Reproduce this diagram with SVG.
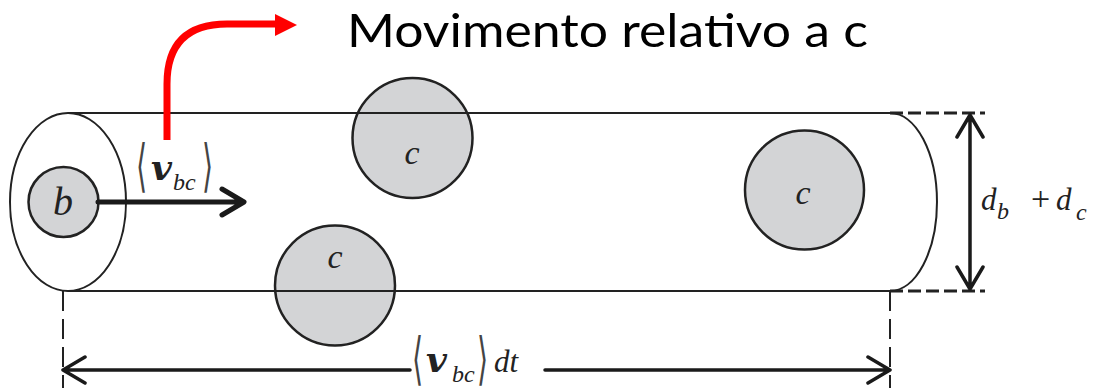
<svg xmlns="http://www.w3.org/2000/svg" width="1106" height="392" viewBox="0 0 1106 392">
<style>
.ln{fill:none;stroke:#222;stroke-width:2}
.cir{fill:#d3d4d6;stroke:#222;stroke-width:2.5}
.math{font-family:"Liberation Serif","DejaVu Serif",serif;font-style:italic;fill:#222}
.vb{font-family:"DejaVu Serif","Liberation Serif",serif;font-style:italic;font-weight:bold;fill:#222}
.rm{font-family:"Liberation Serif","DejaVu Serif",serif;font-style:normal;fill:#222}
.br{font-family:"DejaVu Serif","Liberation Serif",serif;fill:#444}
.dash{fill:none;stroke:#222;stroke-width:3;stroke-dasharray:13 5}
.dashv{fill:none;stroke:#222;stroke-width:2;stroke-dasharray:20 8}
.arr{fill:none;stroke:#1a1a1a;stroke-width:3.5;stroke-linecap:round;stroke-linejoin:round}
</style>
<rect width="1106" height="392" fill="#fff"/>
<g id="particles">
<g id="c1"><circle class="cir" cx="412.5" cy="138" r="60"/><text class="math" x="412" y="164" font-size="34" text-anchor="middle">c</text></g>
<g id="c2"><circle class="cir" cx="335" cy="285.5" r="60"/><text class="math" x="335" y="268" font-size="34" text-anchor="middle">c</text></g>
<g id="c3"><circle class="cir" cx="804.5" cy="190" r="59.5"/><text class="math" x="803" y="204" font-size="34" text-anchor="middle">c</text></g>
</g>
<g id="cylinder">
<ellipse class="ln" cx="68" cy="202" rx="58" ry="89"/>
<line class="ln" x1="68" y1="113" x2="890" y2="113"/>
<line class="ln" x1="68" y1="291" x2="890" y2="291"/>
<path class="ln" d="M890,113 A47,89 0 0 1 890,291"/>
</g>
<g id="b">
<circle class="cir" cx="63.5" cy="202" r="35"/>
<text class="math" x="63" y="215" font-size="40" text-anchor="middle">b</text>
</g>
<g id="connectors">
<path d="M98,202 H243 M222,189 L244,202 L222,215" fill="none" stroke="#1a1a1a" stroke-width="5" stroke-linecap="round" stroke-linejoin="round"/>
<path d="M167,140 V84 Q167,24 227,24 H278" fill="none" stroke="#ff0000" stroke-width="7"/>
<polygon points="275,14 297,25 275,36" fill="#ff0000"/>
<path class="dash" d="M890,113 H985 M890,291 H985"/>
<path class="arr" d="M970,115 V289 M957,137 L970,115 L983,137 M957,267 L970,289 L983,267"/>
<path class="dashv" d="M63,291 V388 M890,291 V388"/>
<path class="arr" d="M63,370 H410 M545,370 H890 M85,357 L63,370 L85,383 M868,357 L890,370 L868,383"/>
</g>
<g id="labels">
<g id="vbc-top">
<text class="br" transform="translate(136,185) scale(0.5,1)" font-size="57">⟨</text>
<text class="vb" x="151" y="180" font-size="36">v</text>
<text class="math" x="173" y="190" font-size="24">bc</text>
<text class="br" transform="translate(202,185) scale(0.5,1)" font-size="57">⟩</text>
</g>
<g id="vbc-dt">
<text class="br" transform="translate(412,378) scale(0.5,1)" font-size="57">⟨</text>
<text class="vb" x="426" y="372" font-size="36">v</text>
<text class="math" x="452" y="382" font-size="24">bc</text>
<text class="br" transform="translate(477,378) scale(0.5,1)" font-size="57">⟩</text>
<text class="math" x="494" y="372" font-size="31">dt</text>
</g>
<g id="dbdc">
<text class="math" x="981" y="210" font-size="31">d</text>
<text class="math" x="997" y="219" font-size="24">b</text>
<text class="rm" x="1031" y="210" font-size="34">+</text>
<text class="math" x="1056" y="210" font-size="31">d</text>
<text class="math" x="1076" y="220" font-size="24">c</text>
</g>
<text id="title" x="347" y="47" font-family="Lato,'Open Sans',sans-serif" font-size="46" fill="#000" textLength="521" lengthAdjust="spacingAndGlyphs">Movimento relativo a c</text>
</g>
</svg>
